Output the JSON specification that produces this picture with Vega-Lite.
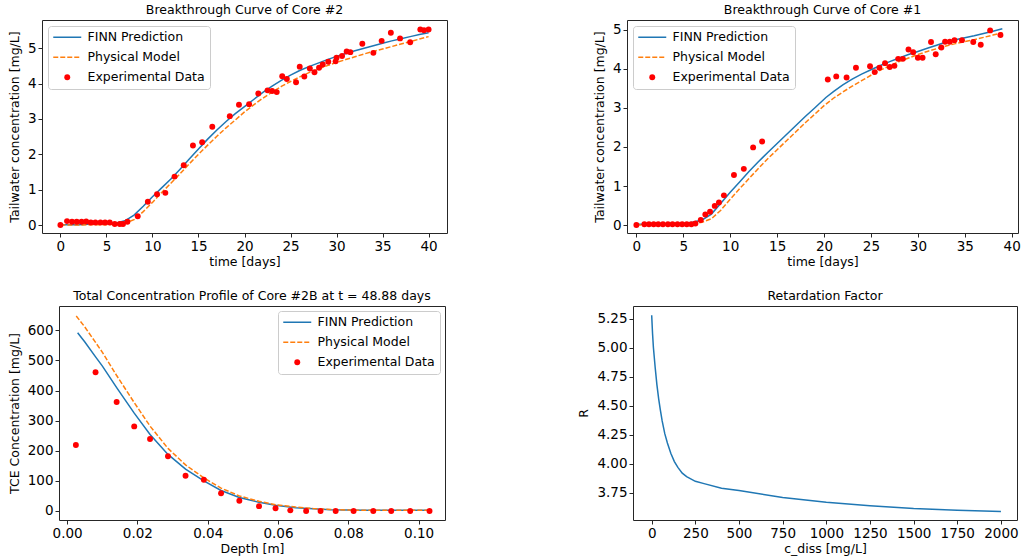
{
  "$schema": "https://vega.github.io/schema/vega-lite/v6.json",
  "background": "white",
  "padding": {"left": 7, "top": 3, "right": 0, "bottom": 0},
  "datasets": {
    "c2": [
      {"x":0,"y":0,"s":"Experimental Data"},{"x":0.72,"y":0.11,"s":"Experimental Data"},{"x":1.26,"y":0.09,"s":"Experimental Data"},{"x":1.77,"y":0.09,"s":"Experimental Data"},{"x":2.3,"y":0.09,"s":"Experimental Data"},{"x":2.8,"y":0.1,"s":"Experimental Data"},{"x":3.3,"y":0.07,"s":"Experimental Data"},{"x":3.8,"y":0.07,"s":"Experimental Data"},{"x":4.35,"y":0.07,"s":"Experimental Data"},{"x":4.85,"y":0.07,"s":"Experimental Data"},{"x":5.36,"y":0.07,"s":"Experimental Data"},{"x":5.9,"y":0.03,"s":"Experimental Data"},{"x":6.45,"y":0.03,"s":"Experimental Data"},{"x":6.8,"y":0.03,"s":"Experimental Data"},{"x":7.28,"y":0.09,"s":"Experimental Data"},{"x":8.4,"y":0.25,"s":"Experimental Data"},{"x":9.5,"y":0.66,"s":"Experimental Data"},{"x":10.5,"y":0.87,"s":"Experimental Data"},{"x":11.4,"y":0.91,"s":"Experimental Data"},{"x":12.4,"y":1.37,"s":"Experimental Data"},{"x":13.4,"y":1.69,"s":"Experimental Data"},{"x":14.4,"y":2.25,"s":"Experimental Data"},{"x":15.4,"y":2.34,"s":"Experimental Data"},{"x":16.5,"y":2.78,"s":"Experimental Data"},{"x":18.4,"y":3.08,"s":"Experimental Data"},{"x":19.4,"y":3.4,"s":"Experimental Data"},{"x":20.5,"y":3.42,"s":"Experimental Data"},{"x":21.5,"y":3.72,"s":"Experimental Data"},{"x":22.5,"y":3.81,"s":"Experimental Data"},{"x":23.0,"y":3.79,"s":"Experimental Data"},{"x":23.5,"y":3.76,"s":"Experimental Data"},{"x":24.1,"y":4.21,"s":"Experimental Data"},{"x":24.6,"y":4.13,"s":"Experimental Data"},{"x":25.6,"y":4.04,"s":"Experimental Data"},{"x":26.0,"y":4.48,"s":"Experimental Data"},{"x":26.5,"y":4.2,"s":"Experimental Data"},{"x":27.1,"y":4.43,"s":"Experimental Data"},{"x":27.6,"y":4.32,"s":"Experimental Data"},{"x":28.1,"y":4.45,"s":"Experimental Data"},{"x":28.5,"y":4.54,"s":"Experimental Data"},{"x":29.1,"y":4.62,"s":"Experimental Data"},{"x":29.9,"y":4.63,"s":"Experimental Data"},{"x":30.0,"y":4.73,"s":"Experimental Data"},{"x":30.6,"y":4.78,"s":"Experimental Data"},{"x":31.1,"y":4.91,"s":"Experimental Data"},{"x":31.5,"y":4.89,"s":"Experimental Data"},{"x":32.8,"y":5.13,"s":"Experimental Data"},{"x":34.0,"y":4.87,"s":"Experimental Data"},{"x":34.9,"y":5.21,"s":"Experimental Data"},{"x":35.9,"y":5.44,"s":"Experimental Data"},{"x":36.9,"y":5.28,"s":"Experimental Data"},{"x":38.0,"y":5.17,"s":"Experimental Data"},{"x":39.1,"y":5.53,"s":"Experimental Data"},{"x":39.5,"y":5.51,"s":"Experimental Data"},{"x":40.0,"y":5.53,"s":"Experimental Data"},
      {"x":0,"y":0.01,"s":"FINN Prediction"},{"x":1,"y":0.01,"s":"FINN Prediction"},{"x":2,"y":0.01,"s":"FINN Prediction"},{"x":3,"y":0.02,"s":"FINN Prediction"},{"x":4,"y":0.02,"s":"FINN Prediction"},{"x":5,"y":0.03,"s":"FINN Prediction"},{"x":6,"y":0.05,"s":"FINN Prediction"},{"x":7,"y":0.12,"s":"FINN Prediction"},{"x":8,"y":0.28,"s":"FINN Prediction"},{"x":9,"y":0.53,"s":"FINN Prediction"},{"x":10,"y":0.8,"s":"FINN Prediction"},{"x":11,"y":1.05,"s":"FINN Prediction"},{"x":12,"y":1.3,"s":"FINN Prediction"},{"x":13,"y":1.58,"s":"FINN Prediction"},{"x":14,"y":1.87,"s":"FINN Prediction"},{"x":15,"y":2.15,"s":"FINN Prediction"},{"x":16,"y":2.43,"s":"FINN Prediction"},{"x":17,"y":2.69,"s":"FINN Prediction"},{"x":18,"y":2.93,"s":"FINN Prediction"},{"x":19,"y":3.15,"s":"FINN Prediction"},{"x":20,"y":3.35,"s":"FINN Prediction"},{"x":21,"y":3.55,"s":"FINN Prediction"},{"x":22,"y":3.75,"s":"FINN Prediction"},{"x":23,"y":3.93,"s":"FINN Prediction"},{"x":24,"y":4.09,"s":"FINN Prediction"},{"x":25,"y":4.24,"s":"FINN Prediction"},{"x":26,"y":4.37,"s":"FINN Prediction"},{"x":27,"y":4.48,"s":"FINN Prediction"},{"x":28,"y":4.58,"s":"FINN Prediction"},{"x":29,"y":4.68,"s":"FINN Prediction"},{"x":30,"y":4.77,"s":"FINN Prediction"},{"x":31,"y":4.85,"s":"FINN Prediction"},{"x":32,"y":4.93,"s":"FINN Prediction"},{"x":33,"y":5.0,"s":"FINN Prediction"},{"x":34,"y":5.07,"s":"FINN Prediction"},{"x":35,"y":5.14,"s":"FINN Prediction"},{"x":36,"y":5.21,"s":"FINN Prediction"},{"x":37,"y":5.27,"s":"FINN Prediction"},{"x":38,"y":5.33,"s":"FINN Prediction"},{"x":39,"y":5.39,"s":"FINN Prediction"},{"x":40,"y":5.44,"s":"FINN Prediction"},
      {"x":0,"y":0.0,"s":"Physical Model"},{"x":1,"y":0.0,"s":"Physical Model"},{"x":2,"y":0.0,"s":"Physical Model"},{"x":3,"y":0.01,"s":"Physical Model"},{"x":4,"y":0.01,"s":"Physical Model"},{"x":5,"y":0.01,"s":"Physical Model"},{"x":6,"y":0.02,"s":"Physical Model"},{"x":7,"y":0.05,"s":"Physical Model"},{"x":8,"y":0.15,"s":"Physical Model"},{"x":9,"y":0.38,"s":"Physical Model"},{"x":10,"y":0.64,"s":"Physical Model"},{"x":11,"y":0.92,"s":"Physical Model"},{"x":12,"y":1.18,"s":"Physical Model"},{"x":13,"y":1.45,"s":"Physical Model"},{"x":14,"y":1.73,"s":"Physical Model"},{"x":15,"y":2.0,"s":"Physical Model"},{"x":16,"y":2.26,"s":"Physical Model"},{"x":17,"y":2.51,"s":"Physical Model"},{"x":18,"y":2.75,"s":"Physical Model"},{"x":19,"y":2.97,"s":"Physical Model"},{"x":20,"y":3.2,"s":"Physical Model"},{"x":21,"y":3.4,"s":"Physical Model"},{"x":22,"y":3.59,"s":"Physical Model"},{"x":23,"y":3.76,"s":"Physical Model"},{"x":24,"y":3.92,"s":"Physical Model"},{"x":25,"y":4.06,"s":"Physical Model"},{"x":26,"y":4.19,"s":"Physical Model"},{"x":27,"y":4.31,"s":"Physical Model"},{"x":28,"y":4.41,"s":"Physical Model"},{"x":29,"y":4.51,"s":"Physical Model"},{"x":30,"y":4.6,"s":"Physical Model"},{"x":31,"y":4.68,"s":"Physical Model"},{"x":32,"y":4.76,"s":"Physical Model"},{"x":33,"y":4.84,"s":"Physical Model"},{"x":34,"y":4.91,"s":"Physical Model"},{"x":35,"y":4.98,"s":"Physical Model"},{"x":36,"y":5.05,"s":"Physical Model"},{"x":37,"y":5.12,"s":"Physical Model"},{"x":38,"y":5.19,"s":"Physical Model"},{"x":39,"y":5.26,"s":"Physical Model"},{"x":40,"y":5.33,"s":"Physical Model"}
    ],
    "c1": [
      {"x":0,"y":0,"s":"Experimental Data"},{"x":0.85,"y":0.02,"s":"Experimental Data"},{"x":1.34,"y":0.02,"s":"Experimental Data"},{"x":1.84,"y":0.02,"s":"Experimental Data"},{"x":2.33,"y":0.02,"s":"Experimental Data"},{"x":2.83,"y":0.02,"s":"Experimental Data"},{"x":3.36,"y":0.02,"s":"Experimental Data"},{"x":3.85,"y":0.02,"s":"Experimental Data"},{"x":4.38,"y":0.02,"s":"Experimental Data"},{"x":4.88,"y":0.02,"s":"Experimental Data"},{"x":5.37,"y":0.02,"s":"Experimental Data"},{"x":5.86,"y":0.02,"s":"Experimental Data"},{"x":6.29,"y":0.04,"s":"Experimental Data"},{"x":6.86,"y":0.13,"s":"Experimental Data"},{"x":7.35,"y":0.27,"s":"Experimental Data"},{"x":7.85,"y":0.34,"s":"Experimental Data"},{"x":8.35,"y":0.49,"s":"Experimental Data"},{"x":8.8,"y":0.58,"s":"Experimental Data"},{"x":9.33,"y":0.76,"s":"Experimental Data"},{"x":10.4,"y":1.28,"s":"Experimental Data"},{"x":11.45,"y":1.44,"s":"Experimental Data"},{"x":12.44,"y":1.99,"s":"Experimental Data"},{"x":13.4,"y":2.14,"s":"Experimental Data"},{"x":20.4,"y":3.73,"s":"Experimental Data"},{"x":21.3,"y":3.81,"s":"Experimental Data"},{"x":22.4,"y":3.78,"s":"Experimental Data"},{"x":23.4,"y":4.03,"s":"Experimental Data"},{"x":24.9,"y":4.07,"s":"Experimental Data"},{"x":25.4,"y":3.92,"s":"Experimental Data"},{"x":25.9,"y":4.03,"s":"Experimental Data"},{"x":26.5,"y":4.15,"s":"Experimental Data"},{"x":27.0,"y":4.05,"s":"Experimental Data"},{"x":27.5,"y":4.08,"s":"Experimental Data"},{"x":27.9,"y":4.26,"s":"Experimental Data"},{"x":28.4,"y":4.26,"s":"Experimental Data"},{"x":29.0,"y":4.5,"s":"Experimental Data"},{"x":29.5,"y":4.43,"s":"Experimental Data"},{"x":30.0,"y":4.29,"s":"Experimental Data"},{"x":30.5,"y":4.29,"s":"Experimental Data"},{"x":31.4,"y":4.69,"s":"Experimental Data"},{"x":31.9,"y":4.38,"s":"Experimental Data"},{"x":32.5,"y":4.55,"s":"Experimental Data"},{"x":32.9,"y":4.7,"s":"Experimental Data"},{"x":33.4,"y":4.7,"s":"Experimental Data"},{"x":33.9,"y":4.74,"s":"Experimental Data"},{"x":34.7,"y":4.74,"s":"Experimental Data"},{"x":35.9,"y":4.69,"s":"Experimental Data"},{"x":36.7,"y":4.62,"s":"Experimental Data"},{"x":37.7,"y":4.99,"s":"Experimental Data"},{"x":38.8,"y":4.87,"s":"Experimental Data"},
      {"x":0,"y":0.02,"s":"FINN Prediction"},{"x":1,"y":0.02,"s":"FINN Prediction"},{"x":2,"y":0.02,"s":"FINN Prediction"},{"x":3,"y":0.02,"s":"FINN Prediction"},{"x":4,"y":0.03,"s":"FINN Prediction"},{"x":5,"y":0.04,"s":"FINN Prediction"},{"x":6,"y":0.07,"s":"FINN Prediction"},{"x":7,"y":0.13,"s":"FINN Prediction"},{"x":8,"y":0.28,"s":"FINN Prediction"},{"x":9,"y":0.56,"s":"FINN Prediction"},{"x":10,"y":0.84,"s":"FINN Prediction"},{"x":11,"y":1.1,"s":"FINN Prediction"},{"x":12,"y":1.37,"s":"FINN Prediction"},{"x":13,"y":1.62,"s":"FINN Prediction"},{"x":13.5,"y":1.74,"s":"FINN Prediction"},{"x":14,"y":1.86,"s":"FINN Prediction"},{"x":15,"y":2.09,"s":"FINN Prediction"},{"x":16,"y":2.32,"s":"FINN Prediction"},{"x":17,"y":2.55,"s":"FINN Prediction"},{"x":18,"y":2.78,"s":"FINN Prediction"},{"x":19,"y":3.0,"s":"FINN Prediction"},{"x":20.2,"y":3.27,"s":"FINN Prediction"},{"x":21,"y":3.42,"s":"FINN Prediction"},{"x":22,"y":3.59,"s":"FINN Prediction"},{"x":23,"y":3.74,"s":"FINN Prediction"},{"x":24,"y":3.87,"s":"FINN Prediction"},{"x":25,"y":3.98,"s":"FINN Prediction"},{"x":26,"y":4.09,"s":"FINN Prediction"},{"x":27,"y":4.19,"s":"FINN Prediction"},{"x":28,"y":4.28,"s":"FINN Prediction"},{"x":29,"y":4.37,"s":"FINN Prediction"},{"x":30,"y":4.45,"s":"FINN Prediction"},{"x":31,"y":4.53,"s":"FINN Prediction"},{"x":32,"y":4.61,"s":"FINN Prediction"},{"x":33,"y":4.69,"s":"FINN Prediction"},{"x":34,"y":4.75,"s":"FINN Prediction"},{"x":35,"y":4.8,"s":"FINN Prediction"},{"x":36,"y":4.85,"s":"FINN Prediction"},{"x":37,"y":4.91,"s":"FINN Prediction"},{"x":38,"y":4.97,"s":"FINN Prediction"},{"x":39,"y":5.03,"s":"FINN Prediction"},
      {"x":0,"y":0.0,"s":"Physical Model"},{"x":1,"y":0.0,"s":"Physical Model"},{"x":2,"y":0.0,"s":"Physical Model"},{"x":3,"y":0.0,"s":"Physical Model"},{"x":4,"y":0.01,"s":"Physical Model"},{"x":5,"y":0.02,"s":"Physical Model"},{"x":6,"y":0.03,"s":"Physical Model"},{"x":7,"y":0.07,"s":"Physical Model"},{"x":8,"y":0.16,"s":"Physical Model"},{"x":9,"y":0.38,"s":"Physical Model"},{"x":10,"y":0.66,"s":"Physical Model"},{"x":11,"y":0.93,"s":"Physical Model"},{"x":12,"y":1.19,"s":"Physical Model"},{"x":13,"y":1.45,"s":"Physical Model"},{"x":14,"y":1.7,"s":"Physical Model"},{"x":15,"y":1.93,"s":"Physical Model"},{"x":16,"y":2.16,"s":"Physical Model"},{"x":17,"y":2.39,"s":"Physical Model"},{"x":18,"y":2.62,"s":"Physical Model"},{"x":19,"y":2.84,"s":"Physical Model"},{"x":20,"y":3.06,"s":"Physical Model"},{"x":21,"y":3.25,"s":"Physical Model"},{"x":22,"y":3.41,"s":"Physical Model"},{"x":23,"y":3.56,"s":"Physical Model"},{"x":24,"y":3.7,"s":"Physical Model"},{"x":25,"y":3.84,"s":"Physical Model"},{"x":26,"y":3.97,"s":"Physical Model"},{"x":27,"y":4.08,"s":"Physical Model"},{"x":28,"y":4.19,"s":"Physical Model"},{"x":29,"y":4.28,"s":"Physical Model"},{"x":30,"y":4.37,"s":"Physical Model"},{"x":31,"y":4.45,"s":"Physical Model"},{"x":32,"y":4.52,"s":"Physical Model"},{"x":33,"y":4.59,"s":"Physical Model"},{"x":34,"y":4.65,"s":"Physical Model"},{"x":35,"y":4.7,"s":"Physical Model"},{"x":36,"y":4.75,"s":"Physical Model"},{"x":37,"y":4.81,"s":"Physical Model"},{"x":38,"y":4.87,"s":"Physical Model"},{"x":39,"y":4.93,"s":"Physical Model"}
    ],
    "p3": [
      {"x":0.0025,"y":219,"s":"Experimental Data"},{"x":0.0081,"y":461,"s":"Experimental Data"},{"x":0.0141,"y":362,"s":"Experimental Data"},{"x":0.0191,"y":281,"s":"Experimental Data"},{"x":0.0236,"y":239,"s":"Experimental Data"},{"x":0.0287,"y":182,"s":"Experimental Data"},{"x":0.0337,"y":117,"s":"Experimental Data"},{"x":0.0389,"y":104,"s":"Experimental Data"},{"x":0.0438,"y":59,"s":"Experimental Data"},{"x":0.049,"y":34,"s":"Experimental Data"},{"x":0.0546,"y":16,"s":"Experimental Data"},{"x":0.0593,"y":9,"s":"Experimental Data"},{"x":0.0635,"y":2,"s":"Experimental Data"},{"x":0.068,"y":0,"s":"Experimental Data"},{"x":0.0721,"y":0,"s":"Experimental Data"},{"x":0.0764,"y":0,"s":"Experimental Data"},{"x":0.0815,"y":0,"s":"Experimental Data"},{"x":0.0871,"y":0,"s":"Experimental Data"},{"x":0.0922,"y":0,"s":"Experimental Data"},{"x":0.0976,"y":0,"s":"Experimental Data"},{"x":0.1031,"y":0,"s":"Experimental Data"},
      {"x":0.003,"y":592,"s":"FINN Prediction"},{"x":0.005,"y":562,"s":"FINN Prediction"},{"x":0.0081,"y":512,"s":"FINN Prediction"},{"x":0.01,"y":482,"s":"FINN Prediction"},{"x":0.0141,"y":410,"s":"FINN Prediction"},{"x":0.0191,"y":325,"s":"FINN Prediction"},{"x":0.0236,"y":254,"s":"FINN Prediction"},{"x":0.0287,"y":188,"s":"FINN Prediction"},{"x":0.0337,"y":139,"s":"FINN Prediction"},{"x":0.0389,"y":100,"s":"FINN Prediction"},{"x":0.0438,"y":68,"s":"FINN Prediction"},{"x":0.049,"y":45,"s":"FINN Prediction"},{"x":0.0546,"y":29,"s":"FINN Prediction"},{"x":0.0593,"y":19,"s":"FINN Prediction"},{"x":0.065,"y":11,"s":"FINN Prediction"},{"x":0.07,"y":7,"s":"FINN Prediction"},{"x":0.075,"y":4,"s":"FINN Prediction"},{"x":0.08,"y":3,"s":"FINN Prediction"},{"x":0.085,"y":2,"s":"FINN Prediction"},{"x":0.09,"y":2,"s":"FINN Prediction"},{"x":0.095,"y":2,"s":"FINN Prediction"},{"x":0.1031,"y":2,"s":"FINN Prediction"},
      {"x":0.0026,"y":648,"s":"Physical Model"},{"x":0.005,"y":612,"s":"Physical Model"},{"x":0.0081,"y":560,"s":"Physical Model"},{"x":0.01,"y":528,"s":"Physical Model"},{"x":0.0141,"y":450,"s":"Physical Model"},{"x":0.0191,"y":360,"s":"Physical Model"},{"x":0.0236,"y":282,"s":"Physical Model"},{"x":0.0287,"y":208,"s":"Physical Model"},{"x":0.0337,"y":153,"s":"Physical Model"},{"x":0.0389,"y":110,"s":"Physical Model"},{"x":0.0438,"y":76,"s":"Physical Model"},{"x":0.049,"y":50,"s":"Physical Model"},{"x":0.0546,"y":32,"s":"Physical Model"},{"x":0.0593,"y":21,"s":"Physical Model"},{"x":0.065,"y":13,"s":"Physical Model"},{"x":0.07,"y":8,"s":"Physical Model"},{"x":0.075,"y":5,"s":"Physical Model"},{"x":0.08,"y":3,"s":"Physical Model"},{"x":0.085,"y":2,"s":"Physical Model"},{"x":0.09,"y":2,"s":"Physical Model"},{"x":0.095,"y":2,"s":"Physical Model"},{"x":0.1031,"y":2,"s":"Physical Model"}
    ],
    "rf": [
      {"x":0,"y":5.28},{"x":5,"y":5.12},{"x":10,"y":5.0},{"x":20,"y":4.83},{"x":30,"y":4.68},{"x":40,"y":4.56},{"x":50,"y":4.46},{"x":60,"y":4.37},{"x":75,"y":4.26},{"x":90,"y":4.18},{"x":110,"y":4.09},{"x":130,"y":4.02},{"x":150,"y":3.97},{"x":175,"y":3.92},{"x":200,"y":3.89},{"x":250,"y":3.85},{"x":300,"y":3.83},{"x":400,"y":3.79},{"x":500,"y":3.77},{"x":750,"y":3.71},{"x":1000,"y":3.67},{"x":1250,"y":3.64},{"x":1500,"y":3.615},{"x":1750,"y":3.6},{"x":2000,"y":3.59}
    ]
  },
  "columns": 1,
  "spacing": 20,
  "align": "none",
  "resolve": {"scale": {"color": "independent"}, "legend": {"color": "independent"}},
  "concat": [
    {
      "spacing": 144,
      "resolve": {"scale": {"color": "independent"}, "legend": {"color": "independent"}},
      "hconcat": [
        {
          "width": 405, "height": 213,
          "title": "Breakthrough Curve of Core #2",
          "data": {"name": "c2"},
          "encoding": {
            "x": {"field": "x", "type": "quantitative", "scale": {"domain": [-2, 42], "nice": false, "zero": false}, "axis": {"values": [0,5,10,15,20,25,30,35,40], "title": "time [days]"}},
            "y": {"field": "y", "type": "quantitative", "scale": {"domain": [-0.226, 5.8], "nice": false, "zero": false}, "axis": {"values": [0,1,2,3,4,5], "title": "Tailwater concentration [mg/L]"}},
            "color": {"field": "s", "type": "nominal", "scale": {"domain": ["FINN Prediction", "Physical Model", "Experimental Data"], "range": ["#1f77b4", "#ff7f0e", "#ff0000"]},
              "legend": {"title": null, "orient": "top-left", "offset": 6, "fillColor": "white", "strokeColor": "#cccccc", "cornerRadius": 3, "padding": 5, "labelFont": "DejaVu Sans", "labelFontSize": 12.5, "labelColor": "#000000", "symbolType": "stroke", "symbolSize": 144, "symbolOffset": 8, "labelOffset": 14, "rowPadding": 7, "symbolStrokeWidth": 1.5,
                "encode": {"symbols": {"update": {
                  "shape": {"signal": "datum.label === 'Experimental Data' ? 'circle' : 'stroke'"},
                  "size": {"signal": "datum.label === 'Experimental Data' ? 35 : 784"},
                  "strokeDash": {"signal": "datum.label === 'Physical Model' ? [5, 2] : [1, 0]"},
                  "stroke": {"signal": "datum.label === 'FINN Prediction' ? '#1f77b4' : datum.label === 'Physical Model' ? '#ff7f0e' : '#ff0000'"},
                  "fill": {"signal": "datum.label === 'Experimental Data' ? '#ff0000' : 'transparent'"},
                  "strokeWidth": {"signal": "datum.label === 'Experimental Data' ? 0 : 1.5"},
                  "opacity": {"value": 1}
                }}}}}
          },
          "layer": [
            {"transform": [{"filter": "datum.s === 'FINN Prediction'"}], "mark": {"type": "line", "strokeWidth": 1.5}, "encoding": {}},
            {"transform": [{"filter": "datum.s === 'Physical Model'"}], "mark": {"type": "line", "strokeWidth": 1.5, "strokeDash": [5, 2]}, "encoding": {}},
            {"transform": [{"filter": "datum.s === 'Experimental Data'"}], "mark": {"type": "point", "filled": true, "size": 35, "opacity": 1}, "encoding": {}}
          ]
        },
        {
          "width": 391, "height": 213,
          "title": "Breakthrough Curve of Core #1",
          "data": {"name": "c1"},
          "encoding": {
            "x": {"field": "x", "type": "quantitative", "scale": {"domain": [-1.0, 40.67], "nice": false, "zero": false}, "axis": {"values": [0,5,10,15,20,25,30,35,40], "title": "time [days]"}},
            "y": {"field": "y", "type": "quantitative", "scale": {"domain": [-0.205, 5.256], "nice": false, "zero": false}, "axis": {"values": [0,1,2,3,4,5], "title": "Tailwater concentration [mg/L]"}},
            "color": {"field": "s", "type": "nominal", "scale": {"domain": ["FINN Prediction", "Physical Model", "Experimental Data"], "range": ["#1f77b4", "#ff7f0e", "#ff0000"]},
              "legend": {"title": null, "orient": "top-left", "offset": 6, "fillColor": "white", "strokeColor": "#cccccc", "cornerRadius": 3, "padding": 5, "labelFont": "DejaVu Sans", "labelFontSize": 12.5, "labelColor": "#000000", "symbolType": "stroke", "symbolSize": 144, "symbolOffset": 8, "labelOffset": 14, "rowPadding": 7, "symbolStrokeWidth": 1.5,
                "encode": {"symbols": {"update": {
                  "shape": {"signal": "datum.label === 'Experimental Data' ? 'circle' : 'stroke'"},
                  "size": {"signal": "datum.label === 'Experimental Data' ? 35 : 784"},
                  "strokeDash": {"signal": "datum.label === 'Physical Model' ? [5, 2] : [1, 0]"},
                  "stroke": {"signal": "datum.label === 'FINN Prediction' ? '#1f77b4' : datum.label === 'Physical Model' ? '#ff7f0e' : '#ff0000'"},
                  "fill": {"signal": "datum.label === 'Experimental Data' ? '#ff0000' : 'transparent'"},
                  "strokeWidth": {"signal": "datum.label === 'Experimental Data' ? 0 : 1.5"},
                  "opacity": {"value": 1}
                }}}}}
          },
          "layer": [
            {"transform": [{"filter": "datum.s === 'FINN Prediction'"}], "mark": {"type": "line", "strokeWidth": 1.5}, "encoding": {}},
            {"transform": [{"filter": "datum.s === 'Physical Model'"}], "mark": {"type": "line", "strokeWidth": 1.5, "strokeDash": [5, 2]}, "encoding": {}},
            {"transform": [{"filter": "datum.s === 'Experimental Data'"}], "mark": {"type": "point", "filled": true, "size": 35, "opacity": 1}, "encoding": {}}
          ]
        }
      ]
    },
    {
      "spacing": 132,
      "resolve": {"scale": {"color": "independent"}, "legend": {"color": "independent"}},
      "hconcat": [
        {
          "width": 403, "height": 214,
          "view": {"stroke": null},
          "title": {"text": "Total Concentration Profile of Core #2B at t = 48.88 days", "dx": 8.5},
          "data": {"name": "p3"},
          "encoding": {
            "color": {"field": "s", "type": "nominal", "scale": {"domain": ["FINN Prediction", "Physical Model", "Experimental Data"], "range": ["#1f77b4", "#ff7f0e", "#ff0000"]},
              "legend": {"title": null, "orient": "top-right", "offset": 5, "fillColor": "white", "strokeColor": "#cccccc", "cornerRadius": 3, "padding": 5, "labelFont": "DejaVu Sans", "labelFontSize": 12.5, "labelColor": "#000000", "symbolType": "stroke", "symbolSize": 144, "symbolOffset": 8, "labelOffset": 14, "rowPadding": 7, "symbolStrokeWidth": 1.5,
                "encode": {"symbols": {"update": {
                  "shape": {"signal": "datum.label === 'Experimental Data' ? 'circle' : 'stroke'"},
                  "size": {"signal": "datum.label === 'Experimental Data' ? 35 : 784"},
                  "strokeDash": {"signal": "datum.label === 'Physical Model' ? [5, 2] : [1, 0]"},
                  "stroke": {"signal": "datum.label === 'FINN Prediction' ? '#1f77b4' : datum.label === 'Physical Model' ? '#ff7f0e' : '#ff0000'"},
                  "fill": {"signal": "datum.label === 'Experimental Data' ? '#ff0000' : 'transparent'"},
                  "strokeWidth": {"signal": "datum.label === 'Experimental Data' ? 0 : 1.5"},
                  "opacity": {"value": 1}
                }}}}}
          },
          "layer": [
            {"transform": [{"filter": "datum.s === 'FINN Prediction'"}], "mark": {"type": "line", "strokeWidth": 1.5},
              "encoding": {
                "x": {"field": "x", "type": "quantitative", "scale": {"domain": [-0.0023, 0.1075], "range": [17, 403], "nice": false, "zero": false}, "axis": {"orient": "bottom", "values": [0, 0.02, 0.04, 0.06, 0.08, 0.1], "format": ".2f", "title": "Depth [m]", "domain": true, "domainColor": "#262626"}},
                "y": {"field": "y", "type": "quantitative", "scale": {"domain": [-30, 681], "nice": false, "zero": false}, "axis": {"orient": "left", "offset": -17, "values": [0,100,200,300,400,500,600], "title": "TCE Concentration [mg/L]", "domain": true, "domainColor": "#262626"}}
              }},
            {"transform": [{"filter": "datum.s === 'Physical Model'"}], "mark": {"type": "line", "strokeWidth": 1.5, "strokeDash": [5, 2]},
              "encoding": {
                "x": {"field": "x", "type": "quantitative", "scale": {"domain": [-0.0023, 0.1075], "range": [17, 403], "nice": false, "zero": false}, "axis": {"orient": "top", "labels": false, "ticks": false, "title": null, "domain": true, "domainColor": "#262626"}},
                "y": {"field": "y", "type": "quantitative", "scale": {"domain": [-30, 681], "nice": false, "zero": false}, "axis": {"orient": "right", "labels": false, "ticks": false, "title": null, "domain": true, "domainColor": "#262626"}}
              }},
            {"transform": [{"filter": "datum.s === 'Experimental Data'"}], "mark": {"type": "point", "filled": true, "size": 35, "opacity": 1},
              "encoding": {
                "x": {"field": "x", "type": "quantitative", "scale": {"domain": [-0.0023, 0.1075], "range": [17, 403], "nice": false, "zero": false}, "axis": null},
                "y": {"field": "y", "type": "quantitative", "scale": {"domain": [-30, 681], "nice": false, "zero": false}, "axis": null}
              }}
          ],
          "resolve": {"axis": {"x": "independent", "y": "independent"}}
        },
        {
          "width": 384, "height": 214,
          "title": "Retardation Factor",
          "data": {"name": "rf"},
          "mark": {"type": "line", "color": "#1f77b4", "strokeWidth": 1.5},
          "encoding": {
            "x": {"field": "x", "type": "quantitative", "scale": {"domain": [-107, 2092], "nice": false, "zero": false}, "axis": {"values": [0,250,500,750,1000,1250,1500,1750,2000], "format": "d", "title": "c_diss [mg/L]"}},
            "y": {"field": "y", "type": "quantitative", "scale": {"domain": [3.517, 5.359], "nice": false, "zero": false}, "axis": {"values": [3.75, 4.0, 4.25, 4.5, 4.75, 5.0, 5.25], "format": ".2f", "title": "R"}}
          }
        }
      ]
    }
  ],
  "config": {
    "font": "DejaVu Sans",
    "view": {"stroke": "#262626", "strokeWidth": 1},
    "axis": {"labelFont": "DejaVu Sans", "labelFontSize": 13.5, "labelColor": "#000000", "titleFont": "DejaVu Sans", "titleFontSize": 12.5, "titleFontWeight": "normal", "titleColor": "#000000", "tickColor": "#262626", "tickSize": 4, "grid": false, "domain": false, "labelPadding": 2, "labelFlush": false, "labelOverlap": false},
    "axisX": {"titlePadding": 3},
    "axisY": {"titlePadding": 6},
    "title": {"font": "DejaVu Sans", "fontSize": 12.5, "fontWeight": "normal", "color": "#000000", "offset": 4, "anchor": "middle"}
  }
}
